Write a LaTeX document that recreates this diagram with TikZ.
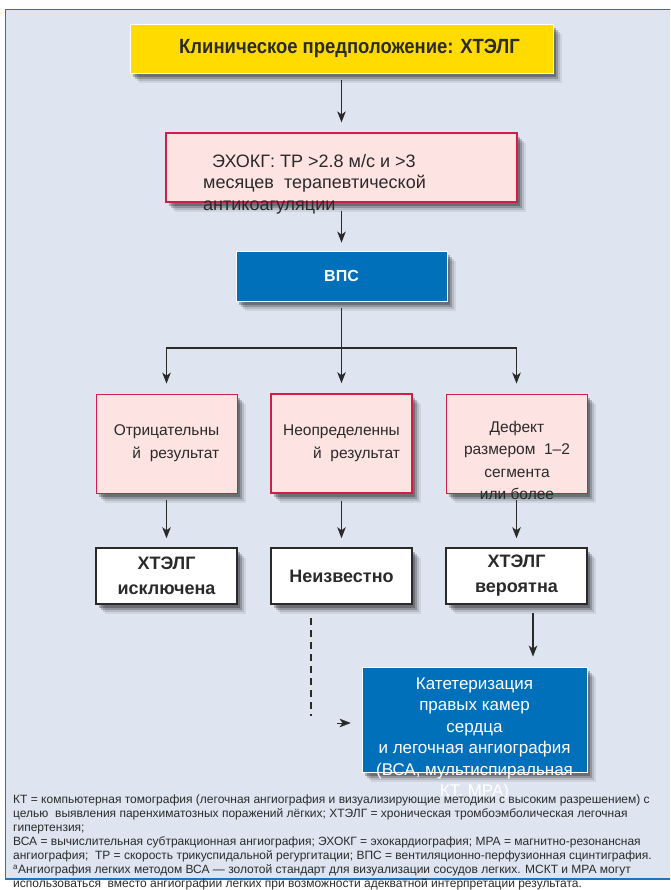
\documentclass[tikz,border=0pt]{standalone}
\usepackage{fontspec}
\setmainfont{Liberation Sans}
\newfontfamily\narrowfont[FakeStretch=0.9]{Liberation Sans}
\usetikzlibrary{arrows.meta,shadows}
\definecolor{panelbg}{HTML}{DEE5F1}
\definecolor{panelline}{HTML}{2273BC}
\definecolor{titleyellow}{HTML}{FFDB00}
\definecolor{pinkfill}{HTML}{FDE3E1}
\definecolor{pinkline}{HTML}{D21D46}
\definecolor{boxblue}{HTML}{0070BB}
\definecolor{inkgrey}{HTML}{2A2A2A}
\begin{document}
\begin{tikzpicture}[x=1pt, y=-1pt,
softshadow/.style={drop shadow={shadow xshift=9pt,shadow yshift=-10pt,fill=black,opacity=.07},
                   drop shadow={shadow xshift=7pt,shadow yshift=-8pt,fill=black,opacity=.12},
                   drop shadow={shadow xshift=5pt,shadow yshift=-6pt,fill=black,opacity=.2},
                   drop shadow={shadow xshift=3pt,shadow yshift=-4pt,fill=black,opacity=.25}},
box/.style={inner sep=0pt, text=inkgrey, softshadow},
pinkbox/.style={box, draw=pinkline, fill=pinkfill, line width=0.8pt, minimum width=141pt, minimum height=99pt},
bluebox/.style={box, draw=white, fill=boxblue, line width=0.8pt, text=white},
whitebox/.style={box, draw=inkgrey, fill=white, line width=1.5pt, minimum width=141pt, minimum height=56pt,
                 font=\fontsize{18}{25}\selectfont\bfseries, align=center},
txt/.style={inner sep=0pt, text=inkgrey},
arr/.style={-{Stealth[length=11pt,width=8.5pt,inset=3pt]}, line width=1.3pt, draw=inkgrey},
conn/.style={line width=1.3pt, draw=inkgrey}]
\useasboundingbox (0,0) rectangle (670,890);
% panel
\fill[panelbg] (5.5,9.5) rectangle (670,879);
\draw[panelline, line width=1.5pt] (670,9.5) -- (5.5,9.5) -- (5.5,879) -- (670,879);

% top of the chart
\node[box, draw=white, fill=titleyellow, line width=0.8pt, minimum width=423pt, minimum height=49pt,
      font=\narrowfont\fontsize{20.5}{24}\selectfont\bfseries] (suspect) at (341.5,48.5) {\hspace*{16pt}Клиническое предположение: ХТЭЛГ};
\node[box, draw=pinkline, fill=pinkfill, line width=1.2pt, minimum width=351pt, minimum height=69pt] (echo) at (341.5,167.5) {};
\node[txt, anchor=west, align=left, font=\fontsize{18}{21.5}\selectfont] (echotxt) at (203,184)
    {\hspace{9pt}ЭХОКГ: ТР >2.8 м/с и >3\\месяцев\ \ терапевтической\\антикоагуляции};
\node[bluebox, minimum width=211pt, minimum height=50pt, font=\fontsize{16}{20}\selectfont\bfseries] (vps) at (341.5,276) {ВПС};
\coordinate (split) at (341.5,348);

% scan results
\node[pinkbox, align=right, font=\fontsize{15.5}{23}\selectfont] (negres) at (166.5,443.5) {Отрицательны\\й\ \ результат};
\node[pinkbox, line width=1.6pt, align=right, font=\fontsize{15.5}{23}\selectfont] (indres) at (341.5,443.5) {Неопределенны\\й\ \ результат};
\node[pinkbox] (defres) at (516.5,443.5) {};
\node[txt, align=center, font=\fontsize{15.5}{22.4}\selectfont] (deftxt) at (517,460.5) {Дефект\\размером\ \ 1--2\\сегмента\\или более};

% conclusions
\node[whitebox] (excl) at (166.5,576) {ХТЭЛГ\\исключена};
\node[whitebox] (unkn) at (341.5,576) {Неизвестно};
\node[whitebox] (prob) at (516.5,576) {ХТЭЛГ\\вероятна};

% catheterisation
\node[bluebox, minimum width=225pt, minimum height=105pt] (cath) at (474.5,719.5) {};
\node[txt, text=white, align=center, font=\fontsize{17}{21.5}\selectfont] (cathtxt) at (474.5,739)
    {Катетеризация\\правых камер\\сердца\\и легочная ангиография\\(ВСА, мультиспиральная\\КТ, МРА)};
\coordinate (dashtop) at (311,618);
\coordinate (dashend) at (311,716);
\coordinate (tipbase) at (337,723);
\coordinate (probout) at (533,613);

% connectors
\draw[arr, shorten <=7pt, shorten >=10pt] (suspect) -- (echo);
\draw[arr, shorten <=8pt, shorten >=8pt] (echo) -- (vps);
\draw[conn, shorten <=7pt] (vps) -- (split);
\draw[arr, shorten >=10pt] (split) -| (negres.north);
\draw[arr, shorten >=10pt] (split) -- (indres.north);
\draw[arr, shorten >=10pt] (split) -| (defres.north);
\draw[arr, shorten <=7pt, shorten >=9pt] (negres) -- (excl);
\draw[arr, shorten <=7pt, shorten >=9pt] (indres) -- (unkn);
\draw[arr, shorten <=7pt, shorten >=9pt] (defres) -- (prob);
\draw[arr, shorten >=10pt] (probout) -- (probout |- cath.north);
\draw[conn, line width=1.5pt, dash pattern=on 7pt off 5pt] (dashtop) -- (dashend);
\draw[arr, line width=0.1pt, shorten >=11pt] (tipbase) -- (tipbase -| cath.west);

% footnote
\node[txt, anchor=north west, align=left, font=\fontsize{12}{14}\selectfont] (notes) at (13,795)
    {КТ = компьютерная томография (легочная ангиография и визуализирующие методики с высоким разрешением) с\\
     целью\ \ выявления паренхиматозных поражений лёгких; ХТЭЛГ = хроническая тромбоэмболическая легочная\\
     гипертензия;\\
     ВСА = вычислительная субтракционная ангиография; ЭХОКГ = эхокардиография; МРА = магнитно-резонансная\\
     ангиография;\ \ ТР = скорость трикуспидальной регургитации; ВПС = вентиляционно-перфузионная сцинтиграфия.\\
     \textsuperscript{a}Ангиография легких методом ВСА --- золотой стандарт для визуализации сосудов легких. МСКТ и МРА могут\\
     использоваться\ \ вместо ангиографии легких при возможности адекватной интерпретации результата.};
\end{tikzpicture}
\end{document}
